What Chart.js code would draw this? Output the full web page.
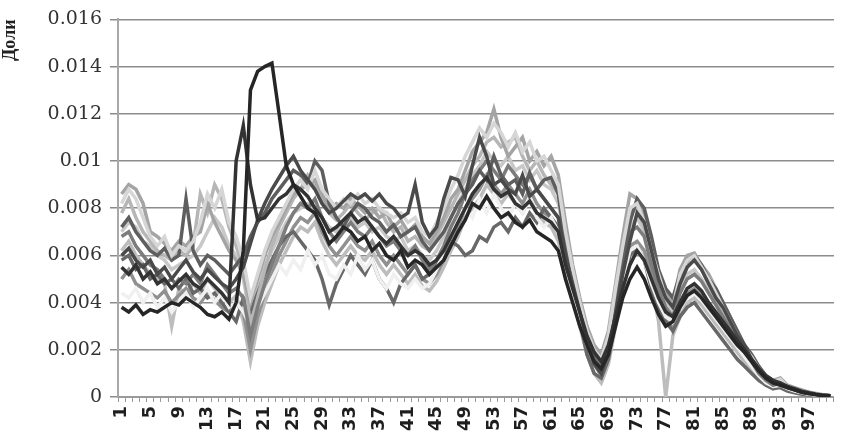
<!DOCTYPE html>
<html>
<head>
<meta charset="utf-8">
<script src="https://cdn.jsdelivr.net/npm/chart.js@4/dist/chart.umd.min.js"></script>
<style>
  html, body { margin: 0; padding: 0; background: #fff; }
  #wrap { width: 856px; height: 442px; }
</style>
</head>
<body>
<div id="wrap"><canvas id="chart" width="856" height="442"></canvas></div>
<script>
// categories 1..100 (the x axis)
const categories = Array.from({ length: 100 }, (_, i) => String(i + 1))
const yTickLabels = ['0', '0.002', '0.004', '0.006', '0.008', '0.01', '0.012', '0.014', '0.016']

// series values
const seriesBlack = [
  0.0038, 0.0036, 0.0039, 0.0035, 0.0037, 0.0036, 0.0038, 0.0040, 0.0039, 0.0042,
  0.0040, 0.0038, 0.0035, 0.0034, 0.0036, 0.0033, 0.0040, 0.0062, 0.0130, 0.0138,
  0.0140, 0.01415, 0.0120, 0.0098, 0.0090, 0.0085, 0.0080, 0.0078, 0.0072, 0.0065,
  0.0068, 0.0072, 0.0070, 0.0066, 0.0068, 0.0062, 0.0065, 0.0060, 0.0058, 0.0062,
  0.0055, 0.0058, 0.0056, 0.0052, 0.0055, 0.0058, 0.0064, 0.0070, 0.0075, 0.0082,
  0.0080, 0.0085, 0.0080, 0.0076, 0.0078, 0.0074, 0.0072, 0.0075, 0.0070, 0.0068,
  0.0066, 0.0062, 0.0050, 0.0040, 0.0030, 0.0022, 0.0015, 0.0012, 0.0018, 0.0030,
  0.0042, 0.0050, 0.0055, 0.0050, 0.0042, 0.0035, 0.0030, 0.0032, 0.0038, 0.0043,
  0.0045, 0.0042, 0.0038, 0.0034, 0.0030, 0.0026, 0.0022, 0.0019, 0.0015, 0.0011,
  0.0008, 0.0006, 0.0005, 0.0004, 0.0003, 0.0002, 0.00015, 0.0001, 0.00005, 0.00005
]
const seriesDarkA = [
  0.0055, 0.0052, 0.0056, 0.0050, 0.0053, 0.0048, 0.0050, 0.0046, 0.0049, 0.0052,
  0.0048, 0.0046, 0.0050, 0.0047, 0.0044, 0.0040, 0.0100, 0.0115, 0.0090, 0.0075,
  0.0076, 0.0080, 0.0084, 0.0086, 0.0090, 0.0088, 0.0085, 0.0080, 0.0076, 0.0070,
  0.0072, 0.0075, 0.0078, 0.0074, 0.0076, 0.0072, 0.0068, 0.0065, 0.0068, 0.0064,
  0.0060, 0.0062, 0.0060, 0.0056, 0.0058, 0.0062, 0.0068, 0.0074, 0.0080, 0.0086,
  0.0090, 0.0093, 0.0088, 0.0085, 0.0087, 0.0082, 0.0080, 0.0083, 0.0078, 0.0076,
  0.0074, 0.0070, 0.0056, 0.0046, 0.0036, 0.0026, 0.0019, 0.0015, 0.0022, 0.0034,
  0.0046, 0.0056, 0.0062, 0.0058, 0.0050, 0.0042, 0.0036, 0.0034, 0.0040, 0.0046,
  0.0048, 0.0045, 0.0040, 0.0036, 0.0032, 0.0028, 0.0024, 0.0020, 0.0016, 0.0012,
  0.0009, 0.0007, 0.0006, 0.00045, 0.00035, 0.00025, 0.00018, 0.00012, 0.00008, 0.00005
]
const seriesDark2 = [
  0.0060, 0.0063, 0.0058, 0.0055, 0.0058, 0.0052, 0.0055, 0.0050, 0.0054, 0.0058,
  0.0053, 0.0050, 0.0054, 0.0051, 0.0048, 0.0046, 0.0050, 0.0055, 0.0065, 0.0075,
  0.0082, 0.0088, 0.0093, 0.0098, 0.0102, 0.0096, 0.0092, 0.0088, 0.0082, 0.0078,
  0.0080, 0.0083, 0.0086, 0.0084, 0.0086, 0.0083, 0.0086, 0.0082, 0.0080, 0.0076,
  0.0078, 0.0090, 0.0074, 0.0068, 0.0072, 0.0084, 0.0093, 0.0092, 0.0085, 0.0098,
  0.0110, 0.0102, 0.0090, 0.0092, 0.0088, 0.0086, 0.0094, 0.0085, 0.0088, 0.0084,
  0.0080, 0.0076, 0.0060, 0.0048, 0.0036, 0.0024, 0.0014, 0.0010, 0.0020, 0.0035,
  0.0052, 0.0066, 0.0078, 0.0074, 0.0062, 0.0050, 0.0042, 0.0038, 0.0048, 0.0055,
  0.0058, 0.0054, 0.0048, 0.0042, 0.0038, 0.0032, 0.0026, 0.0022, 0.0016, 0.0012,
  0.0008, 0.0006, 0.0005, 0.0004, 0.0003, 0.0002, 0.00015, 0.0001, 0.00005, 0.00005
]
const seriesDark3 = [
  0.0072, 0.0076, 0.0070, 0.0066, 0.0062, 0.0060, 0.0063, 0.0058, 0.0060, 0.0084,
  0.0062, 0.0056, 0.0060, 0.0058, 0.0055, 0.0052, 0.0056, 0.0060, 0.0068, 0.0074,
  0.0078, 0.0084, 0.0088, 0.0092, 0.0096, 0.0094, 0.0090, 0.0100, 0.0096, 0.0082,
  0.0076, 0.0072, 0.0078, 0.0082, 0.0080, 0.0076, 0.0074, 0.0070, 0.0073, 0.0068,
  0.0070, 0.0072, 0.0066, 0.0062, 0.0066, 0.0070, 0.0076, 0.0082, 0.0086, 0.0090,
  0.0096, 0.0092, 0.0102, 0.0094, 0.0090, 0.0092, 0.0086, 0.0095, 0.0088, 0.0092,
  0.0093, 0.0086, 0.0064, 0.0050, 0.0038, 0.0026, 0.0016, 0.0012, 0.0024, 0.0040,
  0.0058, 0.0074, 0.0084, 0.0080, 0.0068, 0.0054, 0.0046, 0.0042, 0.0052, 0.0058,
  0.0060, 0.0056, 0.0050, 0.0046, 0.0040, 0.0034, 0.0028, 0.0022, 0.0018, 0.0013,
  0.0009, 0.0007, 0.0006, 0.00045, 0.00035, 0.00025, 0.00018, 0.00012, 0.00008, 0.00005
]
const seriesDark4 = [
  0.0058, 0.0060, 0.0054, 0.0056, 0.0050, 0.0052, 0.0048, 0.0050, 0.0046, 0.0050,
  0.0044, 0.0046, 0.0042, 0.0044, 0.0040, 0.0036, 0.0032, 0.0042, 0.0036, 0.0044,
  0.0052, 0.0058, 0.0064, 0.0068, 0.0070, 0.0066, 0.0062, 0.0058, 0.0050, 0.0039,
  0.0048, 0.0054, 0.0060, 0.0056, 0.0052, 0.0058, 0.0050, 0.0046, 0.0040, 0.0048,
  0.0052, 0.0056, 0.0050, 0.0052, 0.0056, 0.0060, 0.0066, 0.0064, 0.0060, 0.0062,
  0.0068, 0.0066, 0.0072, 0.0074, 0.0070, 0.0076, 0.0072, 0.0078, 0.0074, 0.0080,
  0.0076, 0.0072, 0.0060, 0.0046, 0.0032, 0.0018, 0.0010, 0.0008, 0.0016, 0.0032,
  0.0048, 0.0060, 0.0064, 0.0058, 0.0046, 0.0038, 0.0032, 0.0028, 0.0034, 0.0038,
  0.0040, 0.0036, 0.0032, 0.0028, 0.0024, 0.0020, 0.0016, 0.0013, 0.0010, 0.0007,
  0.0005, 0.00035, 0.0004, 0.00025, 0.00018, 0.00012, 0.00008, 0.00005, 0.00003, 0.00002
]
const seriesMid1 = [
  0.0068, 0.0070, 0.0064, 0.0060, 0.0056, 0.0054, 0.0050, 0.0046, 0.0050, 0.0048,
  0.0052, 0.0048, 0.0056, 0.0052, 0.0048, 0.0044, 0.0046, 0.0042, 0.0026, 0.0038,
  0.0048, 0.0056, 0.0064, 0.0072, 0.0078, 0.0082, 0.0080, 0.0084, 0.0076, 0.0070,
  0.0066, 0.0070, 0.0074, 0.0070, 0.0068, 0.0072, 0.0068, 0.0064, 0.0066, 0.0062,
  0.0060, 0.0064, 0.0058, 0.0054, 0.0058, 0.0064, 0.0072, 0.0078, 0.0086, 0.0092,
  0.0096, 0.0100, 0.0096, 0.0092, 0.0098, 0.0094, 0.0090, 0.0094, 0.0088, 0.0084,
  0.0080, 0.0076, 0.0062, 0.0050, 0.0038, 0.0026, 0.0018, 0.0014, 0.0022, 0.0038,
  0.0054, 0.0070, 0.0072, 0.0068, 0.0056, 0.0046, 0.0038, 0.0034, 0.0044, 0.0050,
  0.0052, 0.0049, 0.0044, 0.0039, 0.0034, 0.0029, 0.0024, 0.0019, 0.0015, 0.0010,
  0.0007, 0.0005, 0.0006, 0.0004, 0.0003, 0.0002, 0.00015, 0.0001, 0.00006, 0.00004
]
const seriesMid2 = [
  0.0050, 0.0054, 0.0048, 0.0046, 0.0044, 0.0042, 0.0045, 0.0040, 0.0043, 0.0046,
  0.0042, 0.0040, 0.0044, 0.0041, 0.0038, 0.0036, 0.0040, 0.0036, 0.0020, 0.0034,
  0.0044, 0.0052, 0.0060, 0.0066, 0.0072, 0.0076, 0.0074, 0.0078, 0.0070, 0.0064,
  0.0060, 0.0064, 0.0068, 0.0064, 0.0062, 0.0066, 0.0060, 0.0056, 0.0060, 0.0056,
  0.0052, 0.0056, 0.0050, 0.0048, 0.0052, 0.0058, 0.0066, 0.0072, 0.0080, 0.0084,
  0.0088, 0.0094, 0.0090, 0.0086, 0.0090, 0.0086, 0.0082, 0.0088, 0.0082, 0.0078,
  0.0076, 0.0070, 0.0058, 0.0046, 0.0034, 0.0022, 0.0014, 0.0009, 0.0018, 0.0034,
  0.0050, 0.0064, 0.0066, 0.0062, 0.0052, 0.0042, 0.0036, 0.0028, 0.0038, 0.0044,
  0.0046, 0.0043, 0.0038, 0.0034, 0.0030, 0.0025, 0.0021, 0.0017, 0.0013, 0.0009,
  0.0006, 0.00045, 0.0005, 0.00035, 0.00025, 0.00018, 0.00012, 0.00008, 0.00005, 0.00003
]
const seriesLight1 = [
  0.0086, 0.0090, 0.0088, 0.0082, 0.0070, 0.0068, 0.0065, 0.0062, 0.0066, 0.0064,
  0.0068, 0.0070, 0.0082, 0.0074, 0.0068, 0.0062, 0.0058, 0.0052, 0.0040, 0.0050,
  0.0060, 0.0068, 0.0074, 0.0080, 0.0086, 0.0088, 0.0090, 0.0092, 0.0086, 0.0080,
  0.0082, 0.0080, 0.0084, 0.0081, 0.0078, 0.0080, 0.0076, 0.0078, 0.0072, 0.0075,
  0.0070, 0.0073, 0.0068, 0.0065, 0.0070, 0.0076, 0.0084, 0.0088, 0.0096, 0.0104,
  0.0108, 0.0112, 0.0122, 0.0110, 0.0102, 0.0106, 0.0110, 0.0100, 0.0104, 0.0098,
  0.0102, 0.0094, 0.0074, 0.0056, 0.0042, 0.0030, 0.0022, 0.0018, 0.0028, 0.0048,
  0.0068, 0.0086, 0.0084, 0.0076, 0.0064, 0.0052, 0.0044, 0.0040, 0.0054, 0.0060,
  0.0061, 0.0056, 0.0052, 0.0046, 0.0040, 0.0034, 0.0028, 0.0022, 0.0018, 0.0013,
  0.0009, 0.0007, 0.0008, 0.0005, 0.0004, 0.0003, 0.0002, 0.00015, 0.0001, 0.00005
]
const seriesLight2 = [
  0.0078, 0.0084, 0.0076, 0.0070, 0.0066, 0.0062, 0.0060, 0.0058, 0.0062, 0.0060,
  0.0064, 0.0086, 0.0078, 0.0090, 0.0084, 0.0072, 0.0064, 0.0055, 0.0030, 0.0042,
  0.0054, 0.0064, 0.0072, 0.0078, 0.0084, 0.0088, 0.0094, 0.0090, 0.0084, 0.0078,
  0.0075, 0.0078, 0.0082, 0.0078, 0.0075, 0.0078, 0.0080, 0.0074, 0.0070, 0.0072,
  0.0066, 0.0068, 0.0064, 0.0062, 0.0068, 0.0074, 0.0080, 0.0086, 0.0092, 0.0098,
  0.0102, 0.0108, 0.0110, 0.0106, 0.0108, 0.0110, 0.0102, 0.0096, 0.0100, 0.0094,
  0.0090, 0.0086, 0.0068, 0.0052, 0.0040, 0.0028, 0.0020, 0.0016, 0.0026, 0.0044,
  0.0062, 0.0078, 0.0080, 0.0072, 0.0060, 0.0050, 0.0042, 0.0038, 0.0050, 0.0056,
  0.0058, 0.0054, 0.0048, 0.0042, 0.0036, 0.0030, 0.0025, 0.0020, 0.0016, 0.0011,
  0.0008, 0.0006, 0.0007, 0.00045, 0.00035, 0.00025, 0.0002, 0.00012, 0.00008, 0.00005
]
const seriesLight3 = [
  0.0062, 0.0066, 0.0060, 0.0056, 0.0052, 0.0050, 0.0048, 0.0030, 0.0046, 0.0044,
  0.0048, 0.0044, 0.0050, 0.0046, 0.0043, 0.0040, 0.0043, 0.0032, 0.0015, 0.0030,
  0.0040, 0.0048, 0.0056, 0.0062, 0.0068, 0.0072, 0.0070, 0.0074, 0.0066, 0.0060,
  0.0056, 0.0060, 0.0064, 0.0060, 0.0058, 0.0062, 0.0056, 0.0052, 0.0056, 0.0052,
  0.0048, 0.0052, 0.0047, 0.0045, 0.0049, 0.0055, 0.0062, 0.0068, 0.0076, 0.0080,
  0.0084, 0.0090, 0.0086, 0.0082, 0.0086, 0.0082, 0.0078, 0.0084, 0.0078, 0.0074,
  0.0072, 0.0066, 0.0054, 0.0042, 0.0030, 0.0018, 0.0010, 0.0006, 0.0014, 0.0030,
  0.0046, 0.0060, 0.0062, 0.0058, 0.0048, 0.0032, 0.0000, 0.0026, 0.0034, 0.0040,
  0.0042, 0.0039, 0.0035, 0.0031, 0.0027, 0.0023, 0.0019, 0.0015, 0.0011, 0.0008,
  0.0005, 0.00035, 0.00045, 0.0003, 0.0002, 0.00015, 0.0001, 0.00006, 0.00004, 0.00002
]
const seriesLight4 = [
  0.0070, 0.0074, 0.0072, 0.0066, 0.0064, 0.0060, 0.0058, 0.0054, 0.0056, 0.0058,
  0.0060, 0.0064, 0.0070, 0.0076, 0.0072, 0.0064, 0.0060, 0.0050, 0.0034, 0.0046,
  0.0056, 0.0062, 0.0068, 0.0074, 0.0078, 0.0080, 0.0082, 0.0080, 0.0076, 0.0072,
  0.0070, 0.0074, 0.0076, 0.0072, 0.0074, 0.0070, 0.0072, 0.0068, 0.0066, 0.0068,
  0.0062, 0.0064, 0.0060, 0.0058, 0.0062, 0.0068, 0.0076, 0.0082, 0.0088, 0.0094,
  0.0098, 0.0104, 0.0100, 0.0098, 0.0102, 0.0096, 0.0098, 0.0092, 0.0096, 0.0090,
  0.0088, 0.0082, 0.0066, 0.0050, 0.0038, 0.0026, 0.0018, 0.0012, 0.0020, 0.0038,
  0.0056, 0.0072, 0.0076, 0.0070, 0.0058, 0.0048, 0.0040, 0.0036, 0.0046, 0.0052,
  0.0054, 0.0050, 0.0045, 0.0040, 0.0035, 0.0030, 0.0025, 0.0020, 0.0016, 0.0011,
  0.0008, 0.0006, 0.0007, 0.0004, 0.0003, 0.00022, 0.00015, 0.0001, 0.00006, 0.00004
]
const seriesLight5 = [
  0.0082, 0.0088, 0.0084, 0.0076, 0.0068, 0.0064, 0.0068, 0.0060, 0.0064, 0.0062,
  0.0066, 0.0074, 0.0086, 0.0080, 0.0088, 0.0074, 0.0068, 0.0058, 0.0042, 0.0052,
  0.0062, 0.0070, 0.0076, 0.0082, 0.0088, 0.0092, 0.0088, 0.0096, 0.0088, 0.0084,
  0.0080, 0.0084, 0.0082, 0.0086, 0.0082, 0.0084, 0.0080, 0.0078, 0.0076, 0.0078,
  0.0074, 0.0076, 0.0070, 0.0068, 0.0074, 0.0080, 0.0088, 0.0094, 0.0102, 0.0108,
  0.0114, 0.0110, 0.0116, 0.0112, 0.0106, 0.0112, 0.0104, 0.0108, 0.0100, 0.0102,
  0.0096, 0.0090, 0.0070, 0.0054, 0.0040, 0.0028, 0.0020, 0.0016, 0.0026, 0.0046,
  0.0064, 0.0080, 0.0082, 0.0074, 0.0062, 0.0052, 0.0042, 0.0038, 0.0052, 0.0058,
  0.0060, 0.0055, 0.0050, 0.0044, 0.0038, 0.0032, 0.0026, 0.0021, 0.0017, 0.0012,
  0.00085, 0.00065, 0.00075, 0.00045, 0.00035, 0.00025, 0.00018, 0.00012, 0.00008, 0.00004
]
const seriesPale = [
  0.0044, 0.0042, 0.0046, 0.0040, 0.0044, 0.0038, 0.0042, 0.0036, 0.0040, 0.0044,
  0.0038, 0.0042, 0.0046, 0.0040, 0.0044, 0.0038, 0.0040, 0.0036, 0.0030, 0.0038,
  0.0044, 0.0050, 0.0056, 0.0052, 0.0058, 0.0054, 0.0062, 0.0056, 0.0060, 0.0052,
  0.0050, 0.0056, 0.0052, 0.0060, 0.0054, 0.0058, 0.0050, 0.0046, 0.0052, 0.0048,
  0.0046, 0.0050, 0.0046, 0.0048, 0.0054, 0.0062, 0.0068, 0.0074, 0.0080, 0.0076,
  0.0084, 0.0078, 0.0086, 0.0080, 0.0076, 0.0082, 0.0078, 0.0084, 0.0076, 0.0072,
  0.0076, 0.0070, 0.0056, 0.0044, 0.0032, 0.0022, 0.0016, 0.0014, 0.0022, 0.0036,
  0.0050, 0.0062, 0.0064, 0.0058, 0.0048, 0.0040, 0.0034, 0.0032, 0.0038, 0.0042,
  0.0044, 0.0041, 0.0037, 0.0033, 0.0029, 0.0025, 0.0021, 0.0017, 0.0013, 0.0009,
  0.0006, 0.00045, 0.0005, 0.00035, 0.00025, 0.00018, 0.00012, 0.00008, 0.00005, 0.00003
]

const seriesList = [
  { data: seriesBlack, color: '#262626' },
  { data: seriesDarkA, color: '#333333' },
  { data: seriesDark2, color: '#4a4a4a' },
  { data: seriesLight5, color: '#d6d6d6' },
  { data: seriesDark3, color: '#5e5e5e' },
  { data: seriesLight1, color: '#a4a4a4' },
  { data: seriesMid1, color: '#7c7c7c' },
  { data: seriesLight2, color: '#b6b6b6' },
  { data: seriesPale, color: '#f0f0f0' },
  { data: seriesDark4, color: '#686868' },
  { data: seriesLight4, color: '#c8c8c8' },
  { data: seriesMid2, color: '#909090' },
  { data: seriesLight3, color: '#bdbdbd' }
]

new Chart(document.getElementById('chart'), {
  type: 'line',
  data: {
    labels: categories,
    datasets: seriesList.map((s, i) => ({
      label: 'Ряд ' + (i + 1),
      data: s.data,
      borderColor: s.color,
      borderWidth: 3.5,
      pointRadius: 0,
      tension: 0,
      fill: false
    }))
  },
  options: {
    responsive: false,
    animation: false,
    layout: { padding: { top: 10, right: 4, left: 0, bottom: 0 } },
    plugins: {
      legend: { display: false },
      tooltip: { enabled: false }
    },
    scales: {
      x: {
        offset: true,
        grid: {
          drawOnChartArea: false,
          drawTicks: true,
          tickLength: 5,
          offset: true,
          color: '#9a9a9a'
        },
        border: { color: '#9a9a9a', width: 2 },
        ticks: {
          autoSkip: false,
          minRotation: 90,
          maxRotation: 90,
          padding: 4,
          color: '#1e1e1e',
          font: { family: 'DejaVu Sans', size: 18, weight: 'bold' },
          callback: (value, index) => (index % 4 === 0 ? categories[index] : '')
        },
        afterFit: (scale) => { scale.height = 45 }
      },
      y: {
        min: 0,
        max: 0.016,
        ticks: {
          stepSize: 0.002,
          padding: 8,
          color: '#333',
          font: { family: 'DejaVu Serif', size: 19 },
          callback: (value, index) => yTickLabels[index]
        },
        grid: { color: '#8c8c8c', lineWidth: 1.5, tickLength: 8 },
        border: { color: '#a8a8a8', width: 2 },
        title: {
          display: true,
          text: 'Доли',
          align: 'end',
          color: '#222',
          padding: { top: 0, bottom: 2 },
          font: { family: 'Liberation Serif', size: 18, weight: 'bold' }
        },
        afterFit: (scale) => { scale.width = 118 }
      }
    }
  }
})
</script>
</body>
</html>
